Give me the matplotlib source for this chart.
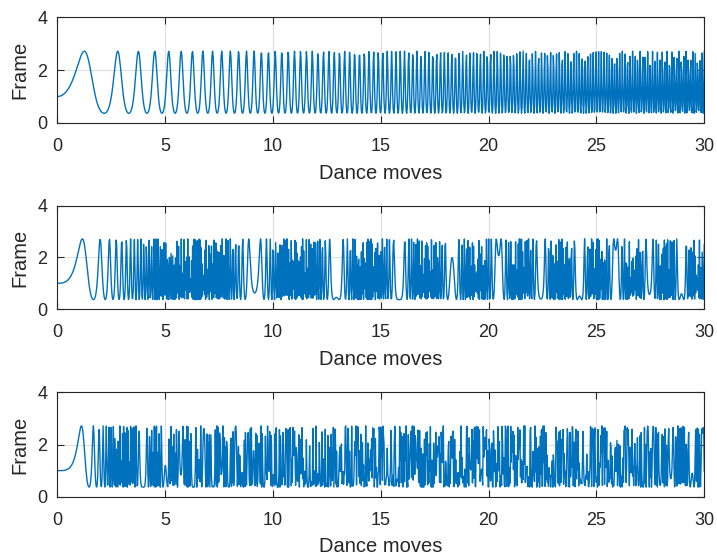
import numpy as np
import matplotlib
matplotlib.use("Agg")
import matplotlib.pyplot as plt

# Data: the three traces are exp(sin(t^p)) sampled on a regular grid
t_start, t_stop, t_step = 0.0, 30.0, 0.025
powers = [2, 3, 4]
x_ticks = [0, 5, 10, 15, 20, 25, 30]
y_ticks = [0, 2, 4]
x_label = "Dance moves"
y_label = "Frame"

t = np.arange(t_start, t_stop + t_step / 2, t_step)
series = [np.exp(np.sin(t ** p)) for p in powers]

plt.rcParams['font.family'] = ['Liberation Sans', 'DejaVu Sans']
fig = plt.figure(figsize=(7.17, 5.59), dpi=100)

axes_rects = [
    [0.0799, 0.780, 0.9024, 0.189],
    [0.0799, 0.447, 0.9024, 0.185],
    [0.0799, 0.1114, 0.9024, 0.1866],
]
axc = '#262626'
for rect, y in zip(axes_rects, series):
    ax = fig.add_axes(rect)
    ax.plot(t, y, color='#0072BD', lw=1.0)
    ax.set_xlim(0, 30)
    ax.set_ylim(0, 4)
    ax.set_xticks(x_ticks)
    ax.set_yticks(y_ticks)
    ax.grid(True, color='#dfdfdf', lw=0.8)
    ax.set_axisbelow(True)
    ax.tick_params(direction='in', top=True, right=True, length=5,
                   labelsize=13, colors=axc, width=0.8)
    ax.tick_params(axis='x', pad=11)
    ax.tick_params(axis='y', pad=7)
    for s in ax.spines.values():
        s.set_color(axc)
        s.set_linewidth(0.8)
    ax.set_xlabel(x_label, fontsize=14.5, color=axc, labelpad=6)
    ax.set_ylabel(y_label, fontsize=14.5, color=axc, labelpad=6)

fig.savefig("out.png", dpi=100)
